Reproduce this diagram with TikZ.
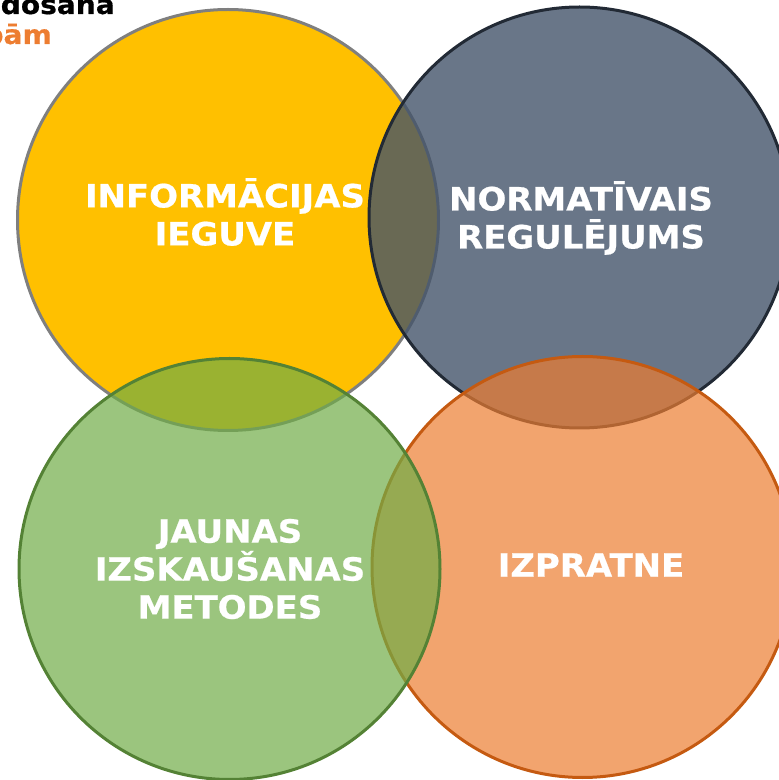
\documentclass[tikz,border=0pt]{standalone}
\usepackage{fontspec}
\setmainfont{DejaVu Sans}
\newfontfamily\vfont[FakeStretch=1.06,BoldFeatures={FakeBold=0.6}]{DejaVu Sans}
\definecolor{cyellow}{HTML}{FFC000}
\definecolor{cyellowline}{HTML}{7F7F7F}
\definecolor{cgray}{HTML}{44546A}
\definecolor{cgrayline}{HTML}{222A35}
\definecolor{cgreen}{HTML}{70AD47}
\definecolor{cgreenline}{HTML}{548235}
\definecolor{corange}{HTML}{ED7D31}
\definecolor{corangeline}{HTML}{C55A11}
\begin{document}
\begin{tikzpicture}[x=1pt,y=1pt,
  bubble/.style={circle,minimum size=421pt,inner sep=0pt,line width=3pt},
  label/.style={text=white,font=\vfont\bfseries\fontsize{32}{38}\selectfont,align=center},
  corner/.style={font=\vfont\bfseries\fontsize{26.5}{30}\selectfont,anchor=base east,inner sep=0pt}]
\useasboundingbox (0,0) rectangle (779,780);
\begin{scope}
\clip (0,0) rectangle (779,780);
\node[corner,text=black] (t1) at (115,766) {dosana};
\node[corner,text=corange] (t2) at (52,736) {pām};
\node[bubble,draw=cyellowline,fill=cyellow] (y) at (228,560) {};
\node[bubble,draw=cgrayline,fill=cgray,fill opacity=0.8] (g) at (579.5,562.5) {};
\node[bubble,draw=corangeline,fill=corange,fill opacity=0.7] (o) at (582.5,213) {};
\node[bubble,draw=cgreenline,fill=cgreen,fill opacity=0.7] (gr) at (229.5,211) {};
\end{scope}
\node[label] (ly) at (225,568) {INFORMĀCIJAS\\IEGUVE};
\node[label] (lg) at (581,562) {NORMATĪVAIS\\REGULĒJUMS};
\node[label] (lgr) at (230,211) {JAUNAS\\IZSKAUŠANAS\\METODES};
\node[label] (lo) at (591,215) {IZPRATNE};
\end{tikzpicture}
\end{document}
